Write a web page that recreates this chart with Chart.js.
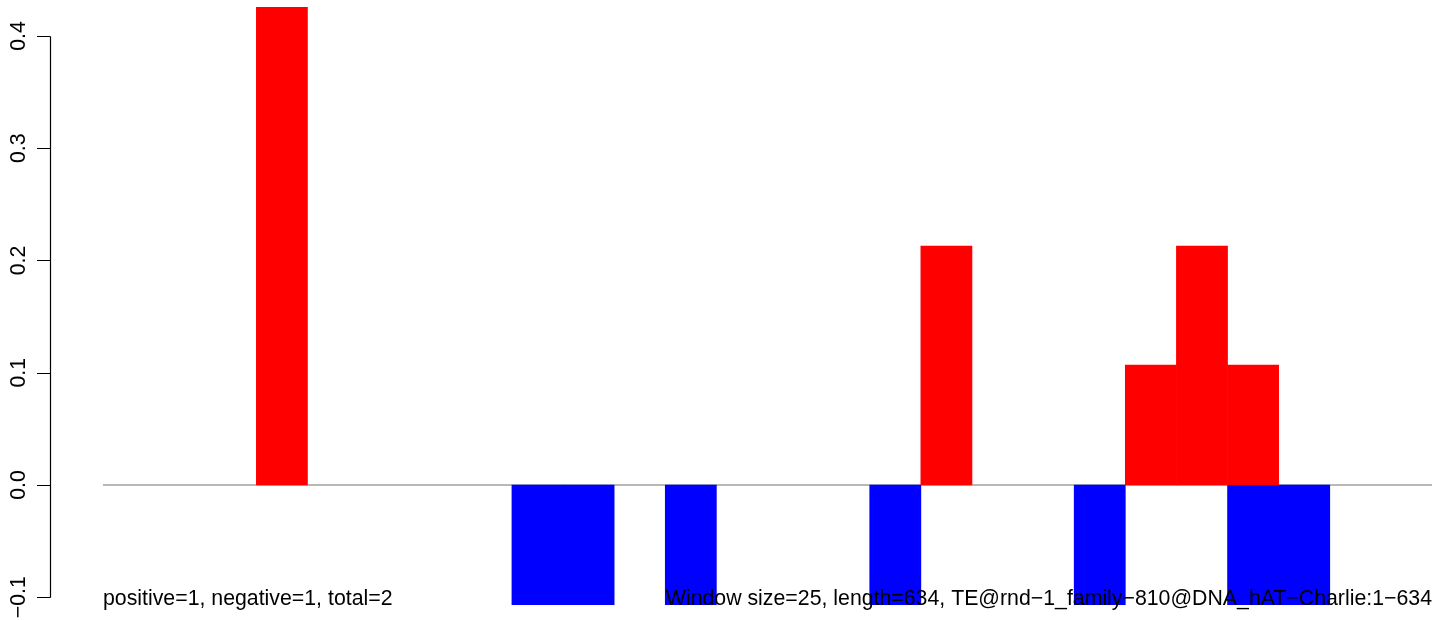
<!DOCTYPE html>
<html lang="en">
<head>
  <meta charset="UTF-8">
  <title>TE window barplot</title>
  <script src="https://cdn.jsdelivr.net/npm/chart.js"></script>
  <style>
    html, body { margin: 0; padding: 0; background: #fff; }
    #wrap { width: 1444px; height: 620px; }
  </style>
</head>
<body>
  <div id="wrap"><canvas id="chart" width="1444" height="620"></canvas></div>

  <script>
    // 26 windows of 25 bp along a 634 bp element
    const windows = Array.from({ length: 26 }, (_, i) => i + 1);

    // window values (red = positive, blue = negative), null = no bar
    const positive = [null, null, null, 0.4258, null, null, null, null, null, null, null, null, null,
                      null, null, null, 0.2129, null, null, null, 0.1069, 0.2129, 0.1069, null, null, null];
    const negative = [null, null, null, null, null, null, null, null, -0.1069, -0.1069, null, -0.1069, null,
                      null, null, -0.1069, null, null, null, -0.1069, null, null, -0.1069, -0.1069, null, null];

    const yTicks = [-0.1, 0.0, 0.1, 0.2, 0.3, 0.4];
    const yTickLabels = ['\u22120.1', '0.0', '0.1', '0.2', '0.3', '0.4'];

    const leftNote = 'positive=1, negative=1, total=2';
    const rightNote = 'Window size=25, length=634, TE@rnd\u22121_family\u2212810@DNA_hAT\u2212Charlie:1\u2212634';

    const FONT = '21.3px "Liberation Sans", Arial, sans-serif';

    // R-style axis, zero line and bottom notes
    const rDecor = {
      id: 'rDecor',
      beforeDatasetsDraw(chart) {
        const { ctx, chartArea, scales } = chart;
        const y0 = Math.round(scales.y.getPixelForValue(0));
        ctx.save();
        ctx.strokeStyle = '#a0a0a0';
        ctx.lineWidth = 1.5;
        ctx.beginPath();
        ctx.moveTo(chartArea.left, y0);
        ctx.lineTo(chartArea.right, y0);
        ctx.stroke();
        ctx.restore();
      },
      afterDraw(chart) {
        const { ctx, chartArea, scales } = chart;
        const y = scales.y;
        const axisX = 50.5;
        ctx.save();
        ctx.strokeStyle = '#000';
        ctx.lineWidth = 1.2;
        ctx.beginPath();
        ctx.moveTo(axisX, Math.round(y.getPixelForValue(yTicks[0])) + 0.5);
        ctx.lineTo(axisX, Math.round(y.getPixelForValue(yTicks[yTicks.length - 1])) + 0.5);
        yTicks.forEach(v => {
          const py = Math.round(y.getPixelForValue(v)) + 0.5;
          ctx.moveTo(37, py);
          ctx.lineTo(axisX, py);
        });
        ctx.stroke();

        ctx.fillStyle = '#000';
        ctx.font = FONT;
        ctx.textAlign = 'center';
        ctx.textBaseline = 'alphabetic';
        yTicks.forEach((v, i) => {
          const py = y.getPixelForValue(v);
          ctx.save();
          ctx.translate(25, py);
          ctx.rotate(-Math.PI / 2);
          ctx.fillText(yTickLabels[i], 0, 0);
          ctx.restore();
        });

        ctx.textAlign = 'left';
        ctx.fillText(leftNote, chartArea.left, 605);
        ctx.textAlign = 'right';
        ctx.fillText(rightNote, chartArea.right, 605);
        ctx.restore();
      }
    };

    new Chart(document.getElementById('chart'), {
      type: 'bar',
      data: {
        labels: windows,
        datasets: [
          { label: 'positive', data: positive, backgroundColor: '#ff0000', borderWidth: 0 },
          { label: 'negative', data: negative, backgroundColor: '#0000ff', borderWidth: 0 }
        ]
      },
      options: {
        responsive: false,
        animation: false,
        layout: { padding: { left: 103, right: 12, top: 7, bottom: 15 } },
        plugins: { legend: { display: false }, tooltip: { enabled: false } },
        datasets: { bar: { barPercentage: 1, categoryPercentage: 1 } },
        scales: {
          x: { display: false, stacked: true },
          y: { display: false, stacked: true, min: -0.1069, max: 0.4258 }
        }
      },
      plugins: [rDecor]
    });
  </script>
</body>
</html>
